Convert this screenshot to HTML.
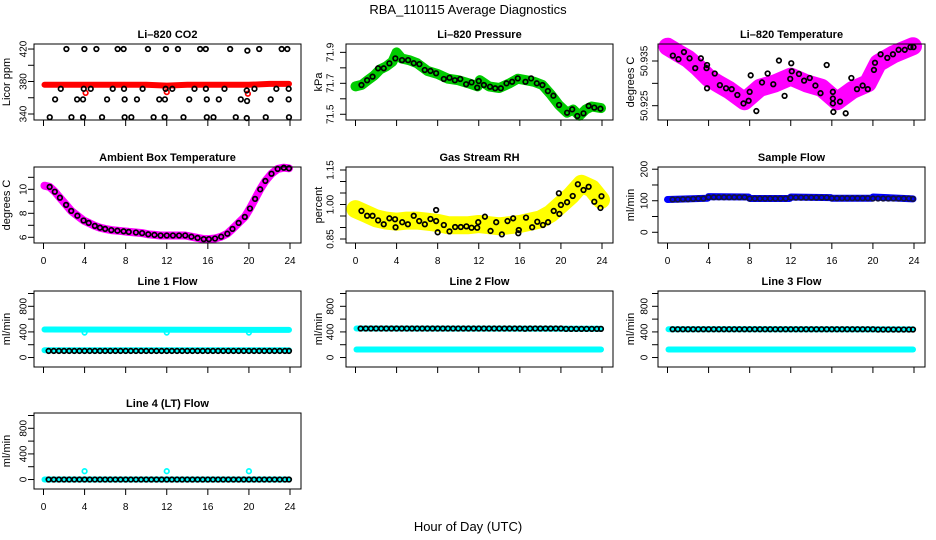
<!DOCTYPE html>
<html><head><meta charset="utf-8"><style>
html,body{margin:0;padding:0;background:#fff;}
svg{display:block;font-family:"Liberation Sans",Arial,sans-serif;}
</style></head><body>
<svg id="chart" width="936" height="540" viewBox="0 0 936 540" xmlns="http://www.w3.org/2000/svg">
<rect width="936" height="540" fill="#fff"/>
<text x="468" y="14" text-anchor="middle" font-size="13">RBA_110115  Average Diagnostics</text>
<text x="468" y="531" text-anchor="middle" font-size="13">Hour of Day (UTC)</text>
</svg>
<script>
// ---------- data ----------
const xTicks=[0,4,8,12,16,20,24];
const halfHours=[0.5,1,1.5,2,2.5,3,3.5,4,4.5,5,5.5,6,6.5,7,7.5,8,8.5,9,9.5,10,10.5,11,11.5,12,12.5,13,13.5,14,14.5,15,15.5,16,16.5,17,17.5,18,18.5,19,19.5,20,20.5,21,21.5,22,22.5,23,23.5,23.9];
// CO2
const co2RedT=[0.1,2,4,6,8,10,12,14,16,18,20,22,23.9];
const co2RedV=[376,376,376,376,376,376,375,376,376,376,376,377,377];
const co2RedOutT=[4.1,12.0,19.9];
const co2RedOutV=[366,367,365];
const co2BlackT=[2.23,3.98,5.15,7.22,7.8,10.17,11.92,13.09,15.25,15.8,18.17,19.85,21.0,23.19,23.74,
 1.68,3.92,4.6,6.74,7.84,9.65,11.89,12.54,14.7,15.81,17.62,19.79,20.54,22.67,23.87,
 1.13,3.27,3.85,6.19,7.9,9.1,11.27,11.82,14.19,15.9,17.07,19.21,19.82,22.12,23.87,
 0.61,2.72,3.85,5.7,7.9,8.55,10.72,11.79,13.63,15.9,16.55,18.72,19.79,21.64,23.9];
const co2BlackV=[420,420,420,420,420,420,420,420,420,420,420,418,420,420,420,
 371,371,371,371,371,371,371,371,371,371,371,369,371,371,371,
 358,358,358,358,358,358,358,358,358,358,358,358,356,358,358,
 336,336,336,336,336,336,336,336,336,336,336,336,335,336,336];
// Pressure
const presGreenT=[0,0.6,1.2,1.8,2.4,3,3.6,4.0,4.5,5.2,6,7,8,9,10,11,11.9,12.1,13,14,15,15.8,16.6,17.4,18.2,19,19.8,20.6,21.2,21.8,22.4,23,23.9];
const presGreenV=[71.68,71.69,71.72,71.75,71.79,71.81,71.84,71.9,71.86,71.85,71.83,71.78,71.76,71.73,71.72,71.70,71.68,71.72,71.68,71.67,71.70,71.73,71.72,71.71,71.69,71.63,71.56,71.51,71.53,71.49,71.53,71.55,71.54];
const presT=[0.58,1.13,1.66,2.2,2.75,3.3,3.88,4.53,5.12,5.67,6.22,6.74,7.3,7.85,8.6,9.15,9.67,10.2,10.77,11.3,11.85,12.0,12.5,13.1,13.6,14.15,14.7,15.25,15.8,16.55,17.1,17.65,18.2,18.73,19.27,19.82,20.6,21.1,21.6,22.2,22.7,23.25,23.85];
const presV=[71.689,71.72,71.743,71.797,71.797,71.829,71.861,71.85,71.85,71.83,71.824,71.786,71.78,71.765,71.728,71.736,71.72,71.728,71.694,71.706,71.672,71.715,71.689,71.678,71.668,71.668,71.7,71.71,71.732,71.71,71.732,71.7,71.689,71.65,71.62,71.56,71.51,71.532,71.489,71.506,71.554,71.543,71.536];
// Li-820 temperature
const tempMagT=[0,1,2,3,4,5,6,7.5,9,10.5,12,13.5,15,16.5,18,19.5,20.5,22,23.9];
const tempMagV=[50.9382,50.9368,50.9355,50.9335,50.9312,50.9298,50.9285,50.926,50.929,50.930,50.9315,50.930,50.929,50.926,50.9285,50.930,50.9345,50.9365,50.9383];
const tempT=[0.52,1.07,1.6,2.15,2.7,3.25,3.8,3.85,4.6,5.1,3.85,5.7,6.25,6.8,7.4,7.9,8.0,8.1,8.65,9.2,9.75,10.3,10.85,11.4,11.95,12.05,12.1,12.8,13.3,13.85,14.4,14.9,15.5,16.1,16.1,16.1,16.15,16.8,17.35,17.9,18.45,19.0,19.5,20.1,20.2,20.75,21.4,21.95,22.5,23.1,23.65,23.95];
const tempV=[50.9362,50.9354,50.937,50.9356,50.9334,50.9356,50.9334,50.9341,50.9322,50.9296,50.9289,50.9289,50.9287,50.9274,50.9255,50.9261,50.9281,50.9318,50.9238,50.9302,50.9322,50.9298,50.9351,50.9272,50.931,50.9345,50.9327,50.9321,50.9306,50.9312,50.9295,50.9278,50.9341,50.9281,50.9266,50.9255,50.9236,50.9259,50.9233,50.9312,50.9287,50.9295,50.9287,50.933,50.9346,50.9365,50.9357,50.9365,50.9375,50.9375,50.9381,50.9381];
// Ambient box temperature
const ambT=[0.1,0.6,1.1,1.6,2.2,2.7,3.3,3.9,4.4,5,5.5,6,6.6,7.2,7.8,8.3,9,9.6,10.2,10.8,11.4,12,12.6,13.2,13.8,14.4,15,15.6,16.1,16.7,17.3,17.9,18.4,19,19.6,20.1,20.6,21.1,21.6,22.2,22.8,23.4,23.9];
const ambV=[10.3,10.2,9.8,9.3,8.7,8.2,7.8,7.4,7.2,6.95,6.8,6.7,6.6,6.55,6.5,6.45,6.4,6.35,6.25,6.2,6.15,6.15,6.15,6.15,6.15,6.05,5.95,5.85,5.85,5.9,6.05,6.3,6.7,7.2,7.7,8.4,9.2,10.0,10.7,11.3,11.7,11.8,11.75];
// Gas stream RH
const rhYelT=[0,1,2,3,4,5,6,7,8,9,10,11,12,13,14,15,16,17,18,19,20,21,22,23,23.9];
const rhYelV=[0.98,0.96,0.94,0.93,0.925,0.93,0.93,0.925,0.92,0.91,0.91,0.91,0.915,0.91,0.905,0.91,0.915,0.925,0.935,0.96,1.0,1.04,1.09,1.07,1.02];
const rhT=[0.58,1.13,1.66,2.2,2.75,3.3,3.85,3.9,4.55,5.1,5.67,6.2,6.75,7.3,7.85,7.85,8.0,8.6,9.15,9.7,10.25,10.8,11.3,11.85,11.95,12.6,13.15,13.7,14.25,14.8,15.35,15.85,15.9,16.6,17.2,17.7,18.25,18.75,19.3,19.85,19.8,20,20.6,21.15,21.65,22.2,22.7,23.25,23.85,23.95];
const rhV=[0.972,0.951,0.951,0.931,0.914,0.94,0.936,0.901,0.923,0.914,0.951,0.928,0.914,0.937,0.976,0.928,0.879,0.911,0.883,0.902,0.902,0.905,0.899,0.899,0.923,0.947,0.885,0.923,0.87,0.928,0.94,0.875,0.889,0.943,0.901,0.925,0.911,0.923,0.972,0.959,1.049,0.998,1.01,1.037,1.088,1.063,1.077,1.012,0.985,1.036];
// Sample flow
const sampleBlueT=[0,3.9,4.0,7.9,8.0,11.9,12.0,15.9,16.0,19.9,20.0,23.9];
const sampleBlueV=[104,108,113,112,107,107,112,110,108,108,112,106];
const sampleV=[104,104,105,105,106,107,107,111,111,111,111,111,111,111,111,107,107,107,107,107,107,107,107,110,110,110,110,110,110,110,110,108,108,108,108,108,108,108,108,107,107,107,107,107,107,107,107,106];
// Line flows
const line1CyanT=[0.1,23.9];
const line1CyanHiV=[437,432];
const line1CyanLoV=[114,114];
const line1OutT=[4,12,20];
const line1OutV=[390,390,390];
const line1V=[103,103,103,103,103,103,103,103,103,103,103,103,103,103,103,103,103,103,103,103,103,103,103,103,103,103,103,103,103,103,103,103,103,103,103,103,103,103,103,103,103,103,103,103,103,103,103,103];
const line2CyanHiV=[453,450];
const line2CyanLoV=[125,125];
const line2V=[453,453,453,453,453,453,453,453,453,453,453,453,453,453,453,453,453,453,453,453,453,453,453,453,453,453,453,453,453,453,453,453,450,453,453,453,453,453,453,453,448,448,448,448,448,448,448,448];
const line3CyanHiV=[442,440];
const line3CyanLoV=[125,125];
const line3V=[442,442,442,442,442,442,442,442,442,442,442,442,442,442,442,442,442,442,442,442,442,442,442,442,442,442,442,442,442,442,442,442,442,442,442,442,442,442,442,442,438,438,438,438,438,438,438,438];
const line4CyanV=[0,0];
const line4OutT=[4,12,20];
const line4OutV=[130,130,130];
const line4V=[0,0,0,0,0,0,0,0,0,0,0,0,0,0,0,0,0,0,0,0,0,0,0,0,0,0,0,0,0,0,0,0,0,0,0,0,0,0,0,0,0,0,0,0,0,0,0,0];

// ---------- drawing ----------
const NS='http://www.w3.org/2000/svg';
const svg=document.getElementById('chart');
const cols=[34,346,658], rows=[44,167,291,413], W=267, H=76;
const tickLabOff=[10,15,13];
function el(tag,attrs,parent){const e=document.createElementNS(NS,tag);for(const k in attrs)e.setAttribute(k,attrs[k]);(parent||svg).appendChild(e);return e;}

function panel(name,c,r,title,ylab,lo,hi,yt,yl){
  const L=cols[c],T=rows[r];
  const g=el('g',{});
  
  
  const x=t=>L+9.5+t*(246.5/24);
  const y=v=>T+H-(v-lo)/(hi-lo)*H;
  const marks=el('g',{},g);
  
  
  const fr=el('rect',{x:L,y:T,width:W,height:H,fill:'none',stroke:'#000','stroke-width':1},g);
  
  
  const tt=el('text',{x:L+W/2,y:T-6,'text-anchor':'middle','font-size':11,'font-weight':'bold'},g);
  tt.textContent=title;
  
  
  const ax=el('g',{},g);
  
  
  xTicks.forEach(t=>{
    el('line',{x1:x(t),x2:x(t),y1:T+H,y2:T+H+6,stroke:'#000'},ax);
    if(r===1||r===3){const tx=el('text',{x:x(t),y:T+H+21,'text-anchor':'middle','font-size':10},ax);tx.textContent=t;
      
      }
  });
  const ay=el('g',{},g);
  
  
  yt.forEach(v=>el('line',{x1:L-6,x2:L,y1:y(v),y2:y(v),stroke:'#000'},ay));
  yl.forEach(s=>{const v=parseFloat(s);const lx=L-tickLabOff[c];
    const tx=el('text',{x:lx,y:y(v),'text-anchor':'middle','font-size':10,'dominant-baseline':'central',transform:`rotate(-90 ${lx} ${y(v)})`},ay);tx.textContent=s;
    
    });
  const yx=L-27,yy=T+H/2;
  const yt2=el('text',{x:yx,y:yy,'text-anchor':'middle','font-size':11,'dominant-baseline':'central',transform:`rotate(-90 ${yx} ${yy})`},g);
  yt2.textContent=ylab;
  
  
  return {x,y,g:marks};
}
function band(p,T,V,color,w,name){
  const pts=T.map((t,i)=>p.x(t).toFixed(1)+','+p.y(V[i]).toFixed(1)).join(' ');
  const e=el('polyline',{points:pts,fill:'none',stroke:color,'stroke-width':w,'stroke-linejoin':'round','stroke-linecap':'round'},p.g);
  
  
}
function pts(p,T,V,color,name,r){
  const gg=el('g',{},p.g);
  
  
  T.forEach((t,i)=>{el('circle',{cx:p.x(t),cy:p.y(V[i]),r:r||2.3,fill:'none',stroke:color,'stroke-width':1.7},gg);});
}
const BK='#000',CY='#00ffff';
// CO2
let p=panel('co2',0,0,'Li–820 CO2','Licor ppm',332.6,426.2,[340,360,380,400,420],['340','380','420']);
band(p,co2RedT,co2RedV,'#ff0000',6,'co2-red-band');
pts(p,co2RedOutT,co2RedOutV,'#ff0000','co2-red-outliers');
pts(p,co2BlackT,co2BlackV,BK,'co2-black-points');
// Pressure
p=panel('pressure',1,0,'Li–820 Pressure','kPa',71.463,71.954,[71.5,71.6,71.7,71.8,71.9],['71.5','71.7','71.9']);
band(p,presGreenT,presGreenV,'#00cc00',10,'pressure-green-band');
pts(p,presT,presV,BK,'pressure-black-points');
// Temperature
p=panel('li820-temp',2,0,'Li–820 Temperature','degrees C',50.9218,50.9388,[50.925,50.930,50.935],['50.925','50.935']);
band(p,tempMagT,tempMagV,'#ff00ff',18,'temp-magenta-band');
pts(p,tempT,tempV,BK,'temp-black-points');
// Ambient
p=panel('ambient-temp',0,1,'Ambient Box Temperature','degrees C',5.525,11.86,[6,7,8,9,10,11],['6','8','10']);
band(p,ambT,ambV,'#ff00ff',8,'ambient-magenta-band');
pts(p,ambT.slice(1),ambV.slice(1),BK,'ambient-black-points');
// RH
p=panel('gas-rh',1,1,'Gas Stream RH','percent',0.8326,1.163,[0.85,0.9,0.95,1.0,1.05,1.1,1.15],['0.85','1.00','1.15']);
band(p,rhYelT,rhYelV,'#ffff00',18,'rh-yellow-band');
pts(p,rhT,rhV,BK,'rh-black-points');
// Sample flow
p=panel('sample-flow',2,1,'Sample Flow','ml/min',-34,207,[0,50,100,150,200],['0','100','200']);
band(p,sampleBlueT,sampleBlueV,'#0000ff',7,'sample-blue-band');
pts(p,halfHours,sampleV,'#111144','sample-black-points');
const fTicks=[0,200,400,600,800,1000], fLabs=['0','400','800'];
// Line 1
p=panel('line1-flow',0,2,'Line 1 Flow','ml/min',-148,1039,fTicks,fLabs);
band(p,line1CyanT,line1CyanHiV,CY,6,'line1-cyan-high');
band(p,line1CyanT,line1CyanLoV,CY,6,'line1-cyan-low');
pts(p,line1OutT,line1OutV,CY,'line1-cyan-outliers');
pts(p,halfHours,line1V,BK,'line1-black-points');
// Line 2
p=panel('line2-flow',1,2,'Line 2 Flow','ml/min',-148,1039,fTicks,fLabs);
band(p,line1CyanT,line2CyanHiV,CY,6,'line2-cyan-high');
band(p,line1CyanT,line2CyanLoV,CY,6,'line2-cyan-low');
pts(p,halfHours,line2V,BK,'line2-black-points');
// Line 3
p=panel('line3-flow',2,2,'Line 3 Flow','ml/min',-148,1039,fTicks,fLabs);
band(p,line1CyanT,line3CyanHiV,CY,6,'line3-cyan-high');
band(p,line1CyanT,line3CyanLoV,CY,6,'line3-cyan-low');
pts(p,halfHours,line3V,BK,'line3-black-points');
// Line 4
p=panel('line4-flow',0,3,'Line 4 (LT) Flow','ml/min',-148,1039,fTicks,fLabs);
band(p,line1CyanT,line4CyanV,CY,6,'line4-cyan-band');
pts(p,line4OutT,line4OutV,CY,'line4-cyan-outliers');
pts(p,halfHours,line4V,BK,'line4-black-points');
</script>
</body></html>
